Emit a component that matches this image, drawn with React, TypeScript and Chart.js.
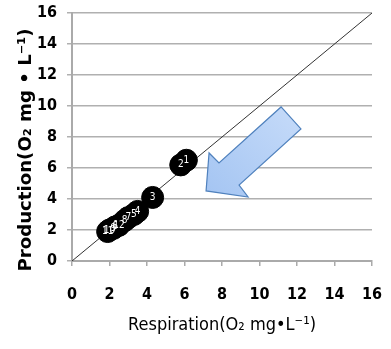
import React, { useEffect, useRef } from "react";
import { Chart, registerables } from "chart.js";

Chart.register(...registerables);

const pointLabels = ["1", "2", "3", "4", "5", "6", "7", "8", "9", "10", "11", "12"];
const respiration = [6.1, 5.8, 4.3, 3.5, 3.3, 2.3, 3.0, 2.8, 2.2, 2.0, 1.9, 2.5];
const production = [6.5, 6.2, 4.1, 3.2, 3.0, 2.2, 2.8, 2.6, 2.1, 2.0, 1.9, 2.3];
const diagX = [0, 16];
const diagY = [0, 16];
const axisTicks = [0, 2, 4, 6, 8, 10, 12, 14, 16];
const xTitle = "Respiration(O₂ mg•L⁻¹)";
const yTitle = "Production(O₂ mg • L⁻¹)";
// arrow annotation outline, in data units
const arrowX = [7.15, 7.31, 7.84, 11.15, 12.21, 8.91, 9.39];
const arrowY = [4.52, 6.97, 6.32, 9.94, 8.52, 4.9, 4.13];

const FONT = "'DejaVu Sans Condensed', 'Liberation Sans Narrow', 'Liberation Sans', sans-serif";

export default function App() {
  const ref = useRef<HTMLCanvasElement | null>(null);
  useEffect(() => {
    if (!ref.current) return;
    const labelPlugin = {
      id: "labels",
      afterDatasetsDraw(chart: any) {
        const ctx = chart.ctx;
        const meta = chart.getDatasetMeta(1);
        ctx.save();
        ctx.fillStyle = "#ffffff";
        ctx.font = `10px ${FONT}`;
        ctx.textAlign = "center";
        ctx.textBaseline = "middle";
        meta.data.forEach((pt: any, i: number) => {
          ctx.fillText(pointLabels[i], pt.x, pt.y);
        });
        // arrow
        const xs = chart.scales.x;
        const ys = chart.scales.y;
        ctx.beginPath();
        arrowX.forEach((v, i) => {
          const px = xs.getPixelForValue(v);
          const py = ys.getPixelForValue(arrowY[i]);
          if (i === 0) ctx.moveTo(px, py);
          else ctx.lineTo(px, py);
        });
        ctx.closePath();
        const g = ctx.createLinearGradient(
          xs.getPixelForValue(7), ys.getPixelForValue(4),
          xs.getPixelForValue(12), ys.getPixelForValue(10)
        );
        g.addColorStop(0, "#a3c4f2");
        g.addColorStop(1, "#c6dbf9");
        ctx.fillStyle = g;
        ctx.fill();
        ctx.strokeStyle = "#4f81bd";
        ctx.lineWidth = 1.2;
        ctx.stroke();
        ctx.restore();
      },
      afterDraw(chart: any) {
        const ctx = chart.ctx;
        const area = chart.chartArea;
        ctx.save();
        ctx.fillStyle = "#000";
        ctx.textAlign = "center";
        ctx.textBaseline = "middle";
        ctx.font = `18px ${FONT}`;
        ctx.fillText(xTitle, (area.left + area.right) / 2, 325);
        ctx.translate(26, 150);
        ctx.rotate(-Math.PI / 2);
        ctx.scale(1.12, 1);
        ctx.font = `bold 18px ${FONT}`;
        ctx.fillText(yTitle, 0, 0);
        ctx.restore();
      },
    };
    const chart = new Chart(ref.current, {
      type: "scatter",
      data: {
        datasets: [
          {
            type: "line",
            data: diagX.map((x, i) => ({ x, y: diagY[i] })),
            borderColor: "#333333",
            borderWidth: 1,
            pointRadius: 0,
            order: 2,
          } as any,
          {
            data: respiration.map((x, i) => ({ x, y: production[i] })),
            backgroundColor: "#000000",
            borderColor: "#000000",
            pointRadius: 11,
            order: 1,
          },
        ],
      },
      options: {
        animation: false,
        responsive: true,
        maintainAspectRatio: false,
        layout: { padding: { top: 13, right: 19, left: 0, bottom: 0 } },
        plugins: { legend: { display: false }, tooltip: { enabled: false } },
        scales: {
          x: {
            type: "linear",
            min: 0,
            max: 16,
            afterBuildTicks: (s: any) => {
              s.ticks = axisTicks.map((v) => ({ value: v }));
            },
            afterFit: (s: any) => {
              s.height = 88;
              s.paddingLeft = 0;
              s.paddingRight = 0;
            },
            grid: { drawOnChartArea: false, drawTicks: true, tickLength: 5, color: "#aaaaaa", lineWidth: 1.5 },
            border: { color: "#aaaaaa", width: 2 },
            ticks: {
              color: "#000",
              padding: 19,
              maxRotation: 0,
              font: { family: FONT, size: 16, weight: "bold" },
            },
          },
          y: {
            type: "linear",
            min: 0,
            max: 16,
            afterBuildTicks: (s: any) => {
              s.ticks = axisTicks.map((v) => ({ value: v }));
            },
            afterFit: (s: any) => {
              s.width = 72;
              s.paddingTop = 0;
              s.paddingBottom = 0;
            },
            grid: { drawOnChartArea: true, drawTicks: true, tickLength: 5, color: "#b0b0b0", lineWidth: 1.5 },
            border: { color: "#aaaaaa", width: 2 },
            ticks: {
              color: "#000",
              padding: 10,
              font: { family: FONT, size: 16, weight: "bold" },
            },
          },
        },
      },
      plugins: [labelPlugin],
    });
    return () => chart.destroy();
  }, []);
  return (
    <div style={{ position: "fixed", left: 0, top: 0, width: 391, height: 349, background: "#fff" }}>
      <canvas ref={ref} />
    </div>
  );
}
